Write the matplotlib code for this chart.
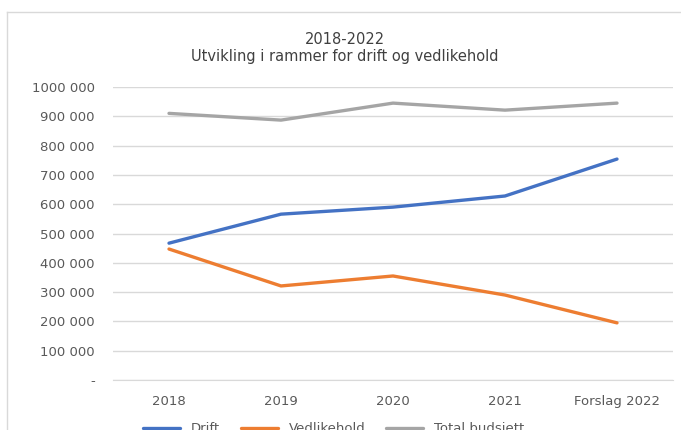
import matplotlib.pyplot as plt
from matplotlib.lines import Line2D

# data
categories = ['2018', '2019', '2020', '2021', 'Forslag 2022']
drift = [467000, 566000, 590000, 628000, 754000]
vedlikehold = [447000, 321000, 355000, 290000, 195000]
total = [910000, 887000, 945000, 921000, 945000]
yticks = [0, 100000, 200000, 300000, 400000, 500000, 600000, 700000, 800000, 900000, 1000000]
ytick_labels = ['-', '100 000', '200 000', '300 000', '400 000', '500 000',
                '600 000', '700 000', '800 000', '900 000', '1000 000']

W, H = 681, 430
fig = plt.figure(figsize=(W / 100, H / 100), dpi=100)
plt.rcParams['font.family'] = ['DejaVu Sans']

# chart frame: only top and left edges are visible (cut off at right and bottom)
fx0, fy0 = 7 / W, 1 - 12 / H
fig.lines.append(Line2D([fx0, 1.0], [fy0, fy0], transform=fig.transFigure, color='#D9D9D9', linewidth=1))
fig.lines.append(Line2D([fx0, fx0], [0.0, fy0], transform=fig.transFigure, color='#D9D9D9', linewidth=1))

ax = fig.add_axes([113 / W, 1 - 380 / H, 560 / W, 293 / H])
x = range(len(categories))
ax.plot(x, drift, color='#4472C4', linewidth=2.4, label='Drift', solid_capstyle='round')
ax.plot(x, vedlikehold, color='#ED7D31', linewidth=2.4, label='Vedlikehold', solid_capstyle='round')
ax.plot(x, total, color='#A5A5A5', linewidth=2.4, label='Total budsjett', solid_capstyle='round')

ax.set_xlim(-0.5, len(categories) - 0.5)
ax.set_ylim(0, 1000000)
ax.set_yticks(yticks)
ax.set_yticklabels(ytick_labels)
ax.set_xticks(list(x))
ax.set_xticklabels(categories)
ax.tick_params(axis='y', length=0, pad=13, labelsize=9.5, labelcolor='#595959')
ax.tick_params(axis='x', length=0, pad=11, labelsize=9.5, labelcolor='#595959')
ax.grid(axis='y', color='#D9D9D9', linewidth=1)
ax.set_axisbelow(True)
for s in ['top', 'right', 'left']:
    ax.spines[s].set_visible(False)
ax.spines['bottom'].set_color('#D9D9D9')

fig.text(345 / W, 1 - 40 / H, '2018-2022', ha='center', va='center', fontsize=10.5, color='#404040')
fig.text(345 / W, 1 - 57 / H, 'Utvikling i rammer for drift og vedlikehold', ha='center', va='center',
         fontsize=10.5, color='#404040')

fig.legend(loc='center', bbox_to_anchor=(0.49, 1 - 430 / H + 0.003), ncol=3, frameon=False,
           fontsize=9.5, labelcolor='#595959', handlelength=2.8, columnspacing=1.6)

fig.savefig('out.png', dpi=100, facecolor='white')
